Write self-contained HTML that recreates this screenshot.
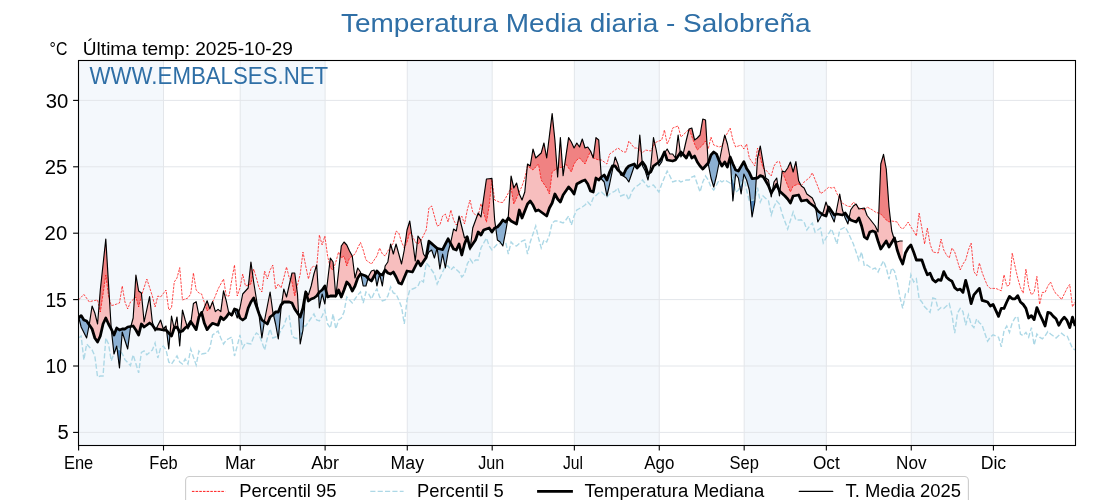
<!DOCTYPE html><html><head><meta charset="utf-8"><style>html,body{margin:0;padding:0;background:#fff;overflow:hidden;}svg{display:block;will-change:transform;}text{font-family:"Liberation Sans", sans-serif;}</style></head><body>
<svg width="1120" height="500" viewBox="0 0 1120 500">
<rect x="0" y="0" width="1120" height="500" fill="#fff"/>
<defs><clipPath id="ax"><rect x="78.0" y="60.0" width="997.0" height="385.0"/></clipPath></defs>
<rect x="78.60" y="60.0" width="84.91" height="385.0" fill="#f4f8fc"/>
<rect x="240.20" y="60.0" width="84.91" height="385.0" fill="#f4f8fc"/>
<rect x="407.28" y="60.0" width="84.91" height="385.0" fill="#f4f8fc"/>
<rect x="574.36" y="60.0" width="84.91" height="385.0" fill="#f4f8fc"/>
<rect x="744.18" y="60.0" width="82.17" height="385.0" fill="#f4f8fc"/>
<rect x="911.26" y="60.0" width="82.17" height="385.0" fill="#f4f8fc"/>
<line x1="78.60" y1="60.0" x2="78.60" y2="445.0" stroke="#e3e6ea" stroke-width="1"/>
<line x1="163.51" y1="60.0" x2="163.51" y2="445.0" stroke="#e3e6ea" stroke-width="1"/>
<line x1="240.20" y1="60.0" x2="240.20" y2="445.0" stroke="#e3e6ea" stroke-width="1"/>
<line x1="325.11" y1="60.0" x2="325.11" y2="445.0" stroke="#e3e6ea" stroke-width="1"/>
<line x1="407.28" y1="60.0" x2="407.28" y2="445.0" stroke="#e3e6ea" stroke-width="1"/>
<line x1="492.19" y1="60.0" x2="492.19" y2="445.0" stroke="#e3e6ea" stroke-width="1"/>
<line x1="574.36" y1="60.0" x2="574.36" y2="445.0" stroke="#e3e6ea" stroke-width="1"/>
<line x1="659.27" y1="60.0" x2="659.27" y2="445.0" stroke="#e3e6ea" stroke-width="1"/>
<line x1="744.18" y1="60.0" x2="744.18" y2="445.0" stroke="#e3e6ea" stroke-width="1"/>
<line x1="826.35" y1="60.0" x2="826.35" y2="445.0" stroke="#e3e6ea" stroke-width="1"/>
<line x1="911.26" y1="60.0" x2="911.26" y2="445.0" stroke="#e3e6ea" stroke-width="1"/>
<line x1="993.43" y1="60.0" x2="993.43" y2="445.0" stroke="#e3e6ea" stroke-width="1"/>
<line x1="78.0" y1="432.40" x2="1075.0" y2="432.40" stroke="#e3e6ea" stroke-width="1"/>
<line x1="78.0" y1="366.00" x2="1075.0" y2="366.00" stroke="#e3e6ea" stroke-width="1"/>
<line x1="78.0" y1="299.60" x2="1075.0" y2="299.60" stroke="#e3e6ea" stroke-width="1"/>
<line x1="78.0" y1="233.20" x2="1075.0" y2="233.20" stroke="#e3e6ea" stroke-width="1"/>
<line x1="78.0" y1="166.80" x2="1075.0" y2="166.80" stroke="#e3e6ea" stroke-width="1"/>
<line x1="78.0" y1="100.40" x2="1075.0" y2="100.40" stroke="#e3e6ea" stroke-width="1"/>
<g clip-path="url(#ax)">
<polygon points="78.40,316.00 78.81,317.64 78.81,317.64 78.40,318.00" fill="#f7bebe"/>
<polygon points="89.20,324.78 89.35,324.00 92.09,306.00 94.83,313.00 97.57,324.00 100.31,290.00 103.05,264.50 105.79,239.00 108.52,284.00 111.26,329.00 111.26,329.00 108.52,324.00 105.79,318.00 103.05,324.00 100.31,336.00 97.57,342.00 94.83,338.00 92.09,329.00 89.35,325.00 89.20,324.78" fill="#f7bebe"/>
<polygon points="130.86,326.42 133.17,318.00 135.91,275.00 138.65,291.00 141.39,293.00 144.12,322.00 146.86,309.30 149.60,296.60 152.34,322.00 153.98,327.40 153.98,327.40 152.34,325.00 149.60,323.00 146.86,325.00 144.12,327.00 141.39,324.00 138.65,335.00 135.91,330.00 133.17,326.00 130.86,326.42" fill="#f7bebe"/>
<polygon points="156.07,329.00 157.82,325.50 160.56,320.00 163.29,329.00 166.03,326.00 166.58,330.60 166.58,330.60 166.03,330.00 163.29,330.00 160.56,329.50 157.82,329.00 156.07,329.00" fill="#f7bebe"/>
<polygon points="169.99,334.33 171.51,316.00 174.12,328.38 174.12,328.38 171.51,336.00 169.99,334.33" fill="#f7bebe"/>
<polygon points="174.50,327.91 176.99,317.00 178.13,329.08 178.13,329.08 176.99,327.00 174.50,327.91" fill="#f7bebe"/>
<polygon points="180.82,331.60 182.46,310.00 185.20,320.00 187.18,326.50 187.18,326.50 185.20,327.80 182.46,331.00 180.82,331.60" fill="#f7bebe"/>
<polygon points="190.96,321.91 193.42,303.50 196.16,301.70 198.89,315.20 200.39,314.55 200.39,314.55 198.89,317.00 196.16,329.60 193.42,325.55 190.96,321.91" fill="#f7bebe"/>
<polygon points="201.87,313.43 204.37,307.40 207.11,300.80 209.85,308.90 212.59,301.70 215.33,311.60 218.06,309.40 220.80,311.60 223.54,290.90 226.28,300.80 228.86,313.23 228.86,313.23 226.28,317.00 223.54,319.70 220.80,317.00 218.06,325.10 215.33,324.20 212.59,323.30 209.85,326.00 207.11,329.60 204.37,323.30 201.87,313.43" fill="#f7bebe"/>
<polygon points="238.45,313.56 239.97,308.00 242.71,294.00 245.45,291.00 248.19,288.00 250.93,262.00 253.66,282.00 256.40,299.00 258.53,312.22 258.53,312.22 256.40,306.00 253.66,298.00 250.93,302.00 248.19,308.00 245.45,318.00 242.71,320.00 239.97,318.00 238.45,313.56" fill="#f7bebe"/>
<polygon points="264.34,321.80 264.62,320.00 267.36,306.00 270.10,292.00 272.83,312.00 273.38,314.40 273.38,314.40 272.83,315.00 270.10,317.00 267.36,324.00 264.62,322.00 264.34,321.80" fill="#f7bebe"/>
<polygon points="281.56,304.44 283.79,289.00 286.53,297.00 289.26,285.00 292.00,273.00 294.74,273.00 297.48,294.00 298.61,314.65 298.61,314.65 297.48,313.00 294.74,309.00 292.00,303.00 289.26,302.00 286.53,302.00 283.79,302.00 281.56,304.44" fill="#f7bebe"/>
<polygon points="305.58,292.70 305.70,291.00 308.43,295.00 311.17,286.00 313.91,274.00 316.65,265.00 318.46,293.36 318.46,293.36 316.65,296.00 313.91,298.00 311.17,299.00 308.43,301.00 305.70,292.00 305.58,292.70" fill="#f7bebe"/>
<polygon points="326.31,291.82 327.60,281.00 330.34,258.00 333.08,262.00 335.74,296.00 335.74,296.00 333.08,296.00 330.34,296.00 327.60,297.00 326.31,291.82" fill="#f7bebe"/>
<polygon points="335.96,295.69 338.56,271.50 341.30,246.00 344.03,242.00 346.77,245.00 349.51,251.00 352.25,256.00 354.99,278.00 357.73,268.00 360.47,272.00 360.89,274.15 360.89,274.15 360.47,274.00 357.73,278.00 354.99,286.00 352.25,291.00 349.51,285.00 346.77,282.00 344.03,290.00 341.30,297.00 338.56,290.00 335.96,295.69" fill="#f7bebe"/>
<polygon points="368.05,278.31 368.68,276.00 371.42,271.00 374.16,270.00 374.94,274.57 374.94,274.57 374.16,276.00 371.42,281.00 368.68,279.00 368.05,278.31" fill="#f7bebe"/>
<polygon points="384.38,271.33 385.11,266.00 387.85,262.00 390.59,244.00 393.33,254.00 396.07,244.00 398.80,254.00 401.54,264.00 404.28,250.00 407.02,230.00 409.76,221.00 412.50,240.00 415.24,261.00 417.97,236.00 420.71,240.00 423.45,254.00 425.99,257.71 425.99,257.71 423.45,261.60 420.71,265.80 417.97,261.00 415.24,266.50 412.50,272.00 409.76,271.50 407.02,271.00 404.28,277.50 401.54,284.00 398.80,283.00 396.07,277.00 393.33,272.00 390.59,274.00 387.85,273.00 385.11,270.00 384.38,271.33" fill="#f7bebe"/>
<polygon points="437.06,248.32 437.14,248.00 437.20,248.41 437.20,248.41 437.14,248.40 437.06,248.32" fill="#f7bebe"/>
<polygon points="450.49,243.26 450.84,242.00 453.57,229.00 456.31,231.00 459.05,216.00 461.79,227.00 464.53,238.00 467.27,236.00 468.18,240.67 468.18,240.67 467.27,237.00 464.53,244.00 461.79,255.00 459.05,244.00 456.31,250.00 453.57,249.00 450.84,243.90 450.49,243.26" fill="#f7bebe"/>
<polygon points="470.31,247.56 472.74,228.00 475.48,220.50 478.22,213.00 480.96,217.00 483.70,198.00 486.44,179.00 489.18,178.70 491.91,178.40 494.65,220.00 495.70,227.62 495.70,227.62 494.65,228.00 491.91,232.00 489.18,228.00 486.44,229.00 483.70,230.00 480.96,235.00 478.22,232.00 475.48,240.00 472.74,244.00 470.31,247.56" fill="#f7bebe"/>
<polygon points="507.89,218.67 508.34,216.00 511.08,176.00 513.82,188.00 516.56,183.00 519.30,194.00 522.04,200.00 524.78,192.00 527.51,164.00 530.25,166.00 532.99,149.00 535.73,158.00 538.47,155.50 541.21,153.00 543.95,143.00 546.68,158.00 549.42,135.80 552.16,113.60 554.90,140.00 557.64,177.00 560.38,137.60 563.11,175.60 565.85,156.60 568.59,137.60 571.33,142.00 574.07,148.00 576.81,143.00 579.55,147.00 582.28,139.00 585.02,148.00 587.76,147.00 590.50,151.00 593.24,158.00 595.98,137.60 598.72,140.00 601.32,177.14 601.32,177.14 598.72,180.00 595.98,178.00 593.24,192.00 590.50,191.00 587.76,184.00 585.02,180.00 582.28,181.00 579.55,182.50 576.81,184.00 574.07,194.00 571.33,190.00 568.59,187.00 565.85,191.00 563.11,195.00 560.38,202.00 557.64,199.00 554.90,194.00 552.16,203.00 549.42,208.00 546.68,216.00 543.95,214.00 541.21,212.00 538.47,210.00 535.73,211.00 532.99,205.00 530.25,201.00 527.51,204.00 524.78,211.00 522.04,218.00 519.30,210.00 516.56,224.00 513.82,222.50 511.08,221.00 508.34,218.00 507.89,218.67" fill="#f7bebe"/>
<polygon points="613.32,166.00 615.15,157.00 617.88,164.00 619.82,171.76 619.82,171.76 617.88,170.00 615.15,166.00 613.32,166.00" fill="#f7bebe"/>
<polygon points="637.05,168.00 639.79,135.00 642.21,162.35 642.21,162.35 639.79,165.00 637.05,168.00" fill="#f7bebe"/>
<polygon points="649.38,173.00 650.75,166.00 653.49,137.60 656.22,150.00 658.35,162.44 658.35,162.44 656.22,164.00 653.49,166.00 650.75,172.00 649.38,173.00" fill="#f7bebe"/>
<polygon points="664.67,152.67 667.18,149.00 669.92,154.00 672.65,154.00 675.39,158.00 678.13,135.00 680.34,152.77 680.34,152.77 678.13,156.00 675.39,160.00 672.65,161.00 669.92,160.50 667.18,160.00 664.67,152.67" fill="#f7bebe"/>
<polygon points="682.58,153.88 683.61,152.00 686.35,140.00 689.09,129.00 691.82,128.00 694.56,140.00 697.30,138.00 700.04,135.00 702.78,119.00 705.52,120.00 708.20,163.06 708.20,163.06 705.52,166.00 702.78,169.00 700.04,166.00 697.30,162.00 694.56,156.00 691.82,158.00 689.09,152.00 686.35,158.00 683.61,155.00 682.58,153.88" fill="#f7bebe"/>
<polygon points="719.35,161.26 721.95,148.00 724.69,135.00 727.42,144.00 730.05,157.42 730.05,157.42 727.42,167.00 724.69,162.00 721.95,166.00 719.35,161.26" fill="#f7bebe"/>
<polygon points="756.29,178.14 757.55,158.00 760.29,146.00 763.02,162.00 765.76,178.00 768.50,180.00 770.12,190.06 770.12,190.06 768.50,185.80 765.76,181.00 763.02,176.60 760.29,175.60 757.55,178.00 756.29,178.14" fill="#f7bebe"/>
<polygon points="772.27,191.34 773.98,182.00 776.72,178.00 778.23,187.96 778.23,187.96 776.72,184.20 773.98,188.60 772.27,191.34" fill="#f7bebe"/>
<polygon points="779.95,191.45 782.19,171.00 784.93,172.00 787.67,168.00 790.41,162.00 793.15,172.00 795.89,161.60 798.63,180.80 801.36,186.00 804.10,188.00 806.84,194.00 809.58,196.00 812.32,198.00 815.06,204.00 815.64,207.86 815.64,207.86 815.06,207.00 812.32,205.00 809.58,203.00 806.84,200.00 804.10,200.50 801.36,201.00 798.63,195.00 795.89,195.50 793.15,196.00 790.41,203.00 787.67,199.00 784.93,196.00 782.19,193.50 779.95,191.45" fill="#f7bebe"/>
<polygon points="822.10,214.14 823.27,212.00 826.01,202.00 828.27,208.59 828.27,208.59 826.01,216.00 823.27,215.00 822.10,214.14" fill="#f7bebe"/>
<polygon points="835.70,214.46 836.96,208.00 839.70,194.00 842.44,210.00 843.81,214.00 843.81,214.00 842.44,215.00 839.70,214.50 836.96,214.00 835.70,214.46" fill="#f7bebe"/>
<polygon points="849.05,218.24 850.66,210.00 853.40,206.00 856.13,204.00 858.87,209.00 861.61,208.50 864.35,208.00 867.09,215.50 869.83,219.00 872.57,222.50 875.30,226.00 878.04,232.00 880.78,164.00 883.52,154.40 886.26,169.00 889.00,207.00 891.73,231.00 894.07,238.67 894.07,238.67 891.73,242.50 889.00,247.00 886.26,241.00 883.52,245.00 880.78,249.00 878.04,241.00 875.30,232.00 872.57,231.00 869.83,232.00 867.09,239.00 864.35,237.00 861.61,226.00 858.87,218.00 856.13,222.00 853.40,221.00 850.66,220.00 849.05,218.24" fill="#f7bebe"/>
<polygon points="895.02,240.40 897.21,242.00 899.95,241.00 902.69,241.00 902.69,264.00 899.95,258.00 897.21,250.00 895.02,240.40" fill="#f7bebe"/>
<polygon points="99.00,306.26 100.31,290.00 103.05,264.50 105.79,239.00 108.52,284.00 109.45,299.25 109.45,299.25 108.52,296.00 105.79,275.00 103.05,294.00 100.31,312.00 99.00,306.26" fill="#f08282"/>
<polygon points="134.42,298.36 135.91,275.00 138.65,291.00 141.39,293.00 141.60,295.32 141.60,295.32 141.39,296.00 138.65,307.00 135.91,297.00 134.42,298.36" fill="#f08282"/>
<polygon points="205.26,305.26 207.11,300.80 209.63,308.24 209.63,308.24 207.11,311.00 205.26,305.26" fill="#f08282"/>
<polygon points="211.90,303.50 212.59,301.70 212.64,301.89 212.64,301.89 212.59,302.00 211.90,303.50" fill="#f08282"/>
<polygon points="248.52,284.88 250.93,262.00 252.65,274.57 252.65,274.57 250.93,284.00 248.52,284.88" fill="#f08282"/>
<polygon points="290.46,279.75 292.00,273.00 294.74,273.00 296.71,288.09 296.71,288.09 294.74,296.00 292.00,282.00 290.46,279.75" fill="#f08282"/>
<polygon points="315.90,267.45 316.65,265.00 316.76,266.70 316.76,266.70 316.65,268.00 315.90,267.45" fill="#f08282"/>
<polygon points="329.56,264.57 330.34,258.00 333.08,262.00 333.59,268.51 333.59,268.51 333.08,270.00 330.34,268.00 329.56,264.57" fill="#f08282"/>
<polygon points="340.25,255.71 341.30,246.00 344.03,242.00 346.77,245.00 349.51,251.00 352.25,256.00 352.25,256.00 349.51,258.00 346.77,266.00 344.03,256.00 341.30,258.00 340.25,255.71" fill="#f08282"/>
<polygon points="390.00,247.86 390.59,244.00 391.18,246.14 391.18,246.14 390.59,247.00 390.00,247.86" fill="#f08282"/>
<polygon points="404.67,247.14 407.02,230.00 409.76,221.00 411.77,234.93 411.77,234.93 409.76,232.00 407.02,242.00 404.67,247.14" fill="#f08282"/>
<polygon points="417.16,243.41 417.97,236.00 420.71,240.00 420.85,240.72 420.85,240.72 420.71,241.00 417.97,244.00 417.16,243.41" fill="#f08282"/>
<polygon points="457.96,222.00 459.05,216.00 459.78,218.93 459.78,218.93 459.05,220.00 457.96,222.00" fill="#f08282"/>
<polygon points="477.34,215.41 478.22,213.00 478.67,213.65 478.67,213.65 478.22,215.60 477.34,215.41" fill="#f08282"/>
<polygon points="482.26,208.00 483.70,198.00 486.44,179.00 489.18,178.70 491.91,178.40 492.07,180.75 492.07,180.75 491.91,179.60 489.18,206.00 486.44,222.20 483.70,212.90 482.26,208.00" fill="#f08282"/>
<polygon points="510.14,189.71 511.08,176.00 513.82,188.00 516.56,183.00 518.98,192.71 518.98,192.71 516.56,198.00 513.82,204.00 511.08,188.00 510.14,189.71" fill="#f08282"/>
<polygon points="527.17,167.50 527.51,164.00 530.25,166.00 532.99,149.00 535.73,158.00 538.47,155.50 541.21,153.00 543.95,143.00 546.68,158.00 549.42,135.80 552.16,113.60 554.90,140.00 557.01,168.46 557.01,168.46 554.90,170.00 552.16,172.00 549.42,194.00 546.68,188.00 543.95,184.00 541.21,180.00 538.47,164.00 535.73,167.00 532.99,170.00 530.25,168.00 527.51,166.00 527.17,167.50" fill="#f08282"/>
<polygon points="558.27,167.88 560.38,137.60 562.50,167.11 562.50,167.11 560.38,167.50 558.27,167.88" fill="#f08282"/>
<polygon points="564.59,165.39 565.85,156.60 568.59,137.60 571.33,142.00 574.07,148.00 576.81,143.00 579.55,147.00 582.28,139.00 585.02,148.00 587.76,147.00 590.50,151.00 590.50,151.00 587.76,157.50 585.02,164.00 582.28,161.00 579.55,158.00 576.81,160.00 574.07,164.00 571.33,172.00 568.59,168.00 565.85,164.00 564.59,165.39" fill="#f08282"/>
<polygon points="593.24,158.00 595.98,137.60 598.72,140.00 600.12,160.00 600.12,160.00 598.72,160.00 595.98,159.00 593.24,158.00" fill="#f08282"/>
<polygon points="638.60,149.41 639.79,135.00 641.28,151.86 641.28,151.86 639.79,150.50 638.60,149.41" fill="#f08282"/>
<polygon points="652.50,147.79 653.49,137.60 654.89,143.95 654.89,143.95 653.49,146.00 652.50,147.79" fill="#f08282"/>
<polygon points="689.09,129.00 691.82,128.00 694.56,140.00 697.30,138.00 700.04,135.00 702.78,119.00 705.52,120.00 707.11,145.67 707.11,145.67 705.52,141.00 702.78,145.00 700.04,147.50 697.30,150.00 694.56,144.00 691.82,136.50 689.09,129.00" fill="#f08282"/>
<polygon points="723.04,142.80 724.69,135.00 725.27,136.93 725.27,136.93 724.69,138.00 723.04,142.80" fill="#f08282"/>
<polygon points="758.79,152.55 760.29,146.00 763.02,162.00 764.20,168.86 764.20,168.86 763.02,168.00 760.29,158.00 758.79,152.55" fill="#f08282"/>
<polygon points="782.18,171.14 782.19,171.00 784.93,172.00 787.67,168.00 790.41,162.00 793.15,172.00 795.89,161.60 798.63,180.80 801.06,185.42 801.06,185.42 798.63,184.00 795.89,185.00 793.15,186.00 790.41,192.00 787.67,185.60 784.93,178.40 782.19,171.20 782.18,171.14" fill="#f08282"/>
<polygon points="839.06,197.28 839.70,194.00 840.78,200.29 840.78,200.29 839.70,198.40 839.06,197.28" fill="#f08282"/>
<polygon points="855.59,204.40 856.13,204.00 857.50,206.50 857.50,206.50 856.13,205.00 855.59,204.40" fill="#f08282"/>
<polygon points="860.70,208.67 861.61,208.50 864.35,208.00 864.87,209.43 864.87,209.43 864.35,210.00 861.61,209.00 860.70,208.67" fill="#f08282"/>
<polygon points="878.80,213.28 880.78,164.00 883.52,154.40 886.26,169.00 889.00,207.00 890.64,221.40 890.64,221.40 889.00,222.00 886.26,220.00 883.52,217.00 880.78,214.00 878.80,213.28" fill="#f08282"/>
<polygon points="78.81,317.64 81.14,327.00 83.88,332.50 86.62,338.00 89.20,324.78 89.20,324.78 86.62,321.00 83.88,320.00 81.14,315.60 78.81,317.64" fill="#8cb0d2"/>
<polygon points="111.26,329.00 114.00,354.00 116.74,346.00 119.48,368.00 122.22,332.00 124.95,340.50 127.69,349.00 130.43,328.00 130.86,326.42 130.86,326.42 130.43,326.50 127.69,327.00 124.95,329.00 122.22,329.00 119.48,330.00 116.74,328.00 114.00,335.00 111.26,329.00" fill="#8cb0d2"/>
<polygon points="153.98,327.40 155.08,331.00 156.07,329.00 156.07,329.00 155.08,329.00 153.98,327.40" fill="#8cb0d2"/>
<polygon points="166.58,330.60 168.77,349.00 169.99,334.33 169.99,334.33 168.77,333.00 166.58,330.60" fill="#8cb0d2"/>
<polygon points="174.12,328.38 174.25,329.00 174.50,327.91 174.50,327.91 174.25,328.00 174.12,328.38" fill="#8cb0d2"/>
<polygon points="178.13,329.08 179.72,346.00 180.82,331.60 180.82,331.60 179.72,332.00 178.13,329.08" fill="#8cb0d2"/>
<polygon points="187.18,326.50 187.94,329.00 190.68,324.00 190.96,321.91 190.96,321.91 190.68,321.50 187.94,326.00 187.18,326.50" fill="#8cb0d2"/>
<polygon points="200.39,314.55 201.63,314.00 201.87,313.43 201.87,313.43 201.63,312.50 200.39,314.55" fill="#8cb0d2"/>
<polygon points="228.86,313.23 229.02,314.00 231.76,316.00 234.49,310.00 237.23,318.00 238.45,313.56 238.45,313.56 237.23,310.00 234.49,309.00 231.76,315.00 229.02,313.00 228.86,313.23" fill="#8cb0d2"/>
<polygon points="258.53,312.22 259.14,316.00 261.88,338.00 264.34,321.80 264.34,321.80 261.88,320.00 259.14,314.00 258.53,312.22" fill="#8cb0d2"/>
<polygon points="273.38,314.40 275.57,324.00 278.31,339.00 281.05,308.00 281.56,304.44 281.56,304.44 281.05,305.00 278.31,312.00 275.57,312.00 273.38,314.40" fill="#8cb0d2"/>
<polygon points="298.61,314.65 300.22,344.00 302.96,330.00 305.58,292.70 305.58,292.70 302.96,308.00 300.22,317.00 298.61,314.65" fill="#8cb0d2"/>
<polygon points="318.46,293.36 319.39,308.00 322.13,294.00 324.87,304.00 326.31,291.82 326.31,291.82 324.87,286.00 322.13,290.00 319.39,292.00 318.46,293.36" fill="#8cb0d2"/>
<polygon points="335.74,296.00 335.82,297.00 335.96,295.69 335.96,295.69 335.82,296.00 335.74,296.00" fill="#8cb0d2"/>
<polygon points="360.89,274.15 363.20,286.00 365.94,286.00 368.05,278.31 368.05,278.31 365.94,276.00 363.20,275.00 360.89,274.15" fill="#8cb0d2"/>
<polygon points="374.94,274.57 376.90,286.00 379.63,274.00 379.63,274.00 376.90,271.00 374.94,274.57" fill="#8cb0d2"/>
<polygon points="379.63,274.00 382.37,286.00 384.38,271.33 384.38,271.33 382.37,275.00 379.63,274.00" fill="#8cb0d2"/>
<polygon points="425.99,257.71 426.19,258.00 428.93,252.00 431.67,250.00 434.40,258.00 437.06,248.32 437.06,248.32 434.40,246.00 431.67,243.60 428.93,241.20 426.19,257.40 425.99,257.71" fill="#8cb0d2"/>
<polygon points="437.20,248.41 439.88,269.00 442.62,254.00 445.36,268.00 448.10,252.00 450.49,243.26 450.49,243.26 448.10,238.80 445.36,244.20 442.62,249.60 439.88,249.00 437.20,248.41" fill="#8cb0d2"/>
<polygon points="468.18,240.67 470.01,250.00 470.31,247.56 470.31,247.56 470.01,248.00 468.18,240.67" fill="#8cb0d2"/>
<polygon points="495.70,227.62 497.39,240.00 500.13,242.00 502.87,246.00 505.61,232.00 507.89,218.67 507.89,218.67 505.61,222.00 502.87,220.00 500.13,224.00 497.39,227.00 495.70,227.62" fill="#8cb0d2"/>
<polygon points="601.32,177.14 601.45,179.00 604.19,182.00 606.93,196.00 609.67,184.00 612.41,170.50 613.32,166.00 613.32,166.00 612.41,166.00 609.67,172.00 606.93,180.00 604.19,175.00 601.45,177.00 601.32,177.14" fill="#8cb0d2"/>
<polygon points="619.82,171.76 620.62,175.00 623.36,176.00 626.10,178.00 628.84,182.00 631.58,174.00 634.32,166.00 637.05,168.00 637.05,168.00 634.32,164.00 631.58,165.00 628.84,166.00 626.10,169.00 623.36,175.00 620.62,172.50 619.82,171.76" fill="#8cb0d2"/>
<polygon points="642.21,162.35 642.53,166.00 645.27,171.00 648.01,180.00 649.38,173.00 649.38,173.00 648.01,174.00 645.27,166.00 642.53,162.00 642.21,162.35" fill="#8cb0d2"/>
<polygon points="658.35,162.44 658.96,166.00 661.70,162.00 664.44,153.00 664.67,152.67 664.67,152.67 664.44,152.00 661.70,158.00 658.96,162.00 658.35,162.44" fill="#8cb0d2"/>
<polygon points="680.34,152.77 680.87,157.00 682.58,153.88 682.58,153.88 680.87,152.00 680.34,152.77" fill="#8cb0d2"/>
<polygon points="708.20,163.06 708.25,164.00 710.99,178.00 713.73,187.00 716.47,176.00 719.21,162.00 719.35,161.26 719.35,161.26 719.21,161.00 716.47,154.00 713.73,152.00 710.99,155.00 708.25,163.00 708.20,163.06" fill="#8cb0d2"/>
<polygon points="730.05,157.42 730.16,158.00 732.90,201.00 735.64,174.00 738.38,178.00 741.12,194.00 743.86,174.00 746.59,180.00 749.33,190.00 752.07,217.00 754.81,202.00 756.29,178.14 756.29,178.14 754.81,178.30 752.07,178.60 749.33,172.60 746.59,168.40 743.86,161.80 741.12,166.40 738.38,171.00 735.64,170.00 732.90,164.00 730.16,157.00 730.05,157.42" fill="#8cb0d2"/>
<polygon points="770.12,190.06 771.24,197.00 772.27,191.34 772.27,191.34 771.24,193.00 770.12,190.06" fill="#8cb0d2"/>
<polygon points="778.23,187.96 779.46,196.00 779.95,191.45 779.95,191.45 779.46,191.00 778.23,187.96" fill="#8cb0d2"/>
<polygon points="815.64,207.86 817.80,222.00 820.53,217.00 822.10,214.14 822.10,214.14 820.53,213.00 817.80,211.00 815.64,207.86" fill="#8cb0d2"/>
<polygon points="828.27,208.59 828.75,210.00 831.49,216.00 834.23,222.00 835.70,214.46 835.70,214.46 834.23,215.00 831.49,211.00 828.75,207.00 828.27,208.59" fill="#8cb0d2"/>
<polygon points="843.81,214.00 845.18,218.00 847.92,224.00 849.05,218.24 849.05,218.24 847.92,217.00 845.18,213.00 843.81,214.00" fill="#8cb0d2"/>
<polygon points="894.07,238.67 894.47,240.00 895.02,240.40 895.02,240.40 894.47,238.00 894.07,238.67" fill="#8cb0d2"/>
<polygon points="113.97,353.69 114.00,354.00 115.37,350.00 115.37,350.00 114.00,353.60 113.97,353.69" fill="#4a80b6"/>
<polygon points="116.80,346.48 119.48,368.00 120.72,351.64 120.72,351.64 119.48,350.00 116.80,346.48" fill="#4a80b6"/>
<polygon points="277.80,336.19 278.31,339.00 278.64,335.28 278.64,335.28 278.31,336.00 277.80,336.19" fill="#4a80b6"/>
<polygon points="299.94,338.95 300.22,344.00 302.96,330.00 303.24,326.00 303.24,326.00 302.96,326.00 300.22,339.00 299.94,338.95" fill="#4a80b6"/>
<polygon points="445.09,266.60 445.36,268.00 445.70,266.00 445.70,266.00 445.36,266.00 445.09,266.60" fill="#4a80b6"/>
<polygon points="501.04,243.33 502.87,246.00 503.50,242.77 503.50,242.77 502.87,243.00 501.04,243.33" fill="#4a80b6"/>
<polygon points="731.53,179.50 732.90,201.00 734.48,185.45 734.48,185.45 732.90,176.00 731.53,179.50" fill="#4a80b6"/>
<polygon points="739.83,186.50 741.12,194.00 743.28,178.18 743.28,178.18 741.12,183.40 739.83,186.50" fill="#4a80b6"/>
<polygon points="750.42,200.72 752.07,217.00 754.81,202.00 755.01,198.70 755.01,198.70 754.81,199.60 752.07,200.30 750.42,200.72" fill="#4a80b6"/>
<polyline points="78.40,300.00 81.14,297.20 83.88,294.40 86.62,298.20 89.35,302.00 92.09,301.00 94.83,300.50 97.57,300.00 100.31,312.00 103.05,294.00 105.79,275.00 108.52,296.00 111.26,305.60 114.00,305.00 116.74,304.00 119.48,303.00 122.22,286.00 124.95,302.00 127.69,309.00 130.43,302.00 133.17,299.50 135.91,297.00 138.65,307.00 141.39,296.00 144.12,287.50 146.86,279.00 149.60,287.50 152.34,296.00 155.08,307.00 157.82,296.00 160.56,297.00 163.29,293.50 166.03,290.00 168.77,310.00 171.51,308.00 174.25,282.00 176.99,278.00 179.72,267.60 182.46,300.00 185.20,299.00 187.94,298.00 190.68,294.00 193.42,273.00 196.16,290.00 198.89,293.00 201.63,294.00 204.37,302.50 207.11,311.00 209.85,308.00 212.59,302.00 215.33,296.00 218.06,289.00 220.80,284.00 223.54,279.00 226.28,296.00 229.02,296.00 231.76,280.00 234.49,265.00 237.23,296.00 239.97,288.00 242.71,274.00 245.45,286.00 248.19,285.00 250.93,284.00 253.66,269.00 256.40,278.00 259.14,288.00 261.88,292.00 264.62,271.00 267.36,279.00 270.10,270.00 272.83,265.00 275.57,289.00 278.31,284.00 281.05,288.00 283.79,278.00 286.53,267.00 289.26,278.00 292.00,282.00 294.74,296.00 297.48,285.00 300.22,274.00 302.96,252.00 305.70,266.00 308.43,279.00 311.17,268.00 313.91,266.00 316.65,268.00 319.39,235.00 322.13,245.00 324.87,236.00 327.60,256.00 330.34,268.00 333.08,270.00 335.82,262.00 338.56,252.00 341.30,258.00 344.03,256.00 346.77,266.00 349.51,258.00 352.25,256.00 354.99,254.00 357.73,248.00 360.47,242.40 363.20,250.00 365.94,260.00 368.68,262.00 371.42,264.00 374.16,260.00 376.90,256.00 379.63,248.00 382.37,254.00 385.11,256.00 387.85,251.00 390.59,247.00 393.33,243.00 396.07,231.00 398.80,233.00 401.54,242.00 404.28,248.00 407.02,242.00 409.76,232.00 412.50,236.00 415.24,242.00 417.97,244.00 420.71,241.00 423.45,235.50 426.19,230.00 428.93,208.00 431.67,206.00 434.40,216.00 437.14,226.00 439.88,225.00 442.62,216.00 445.36,214.00 448.10,222.00 450.84,210.00 453.57,220.00 456.31,225.00 459.05,220.00 461.79,216.00 464.53,224.00 467.27,210.00 470.01,200.00 472.74,212.00 475.48,215.00 478.22,215.60 480.96,203.60 483.70,212.90 486.44,222.20 489.18,206.00 491.91,179.60 494.65,200.00 497.39,201.20 500.13,202.40 502.87,202.40 505.61,198.00 508.34,193.00 511.08,188.00 513.82,204.00 516.56,198.00 519.30,192.00 522.04,186.00 524.78,178.00 527.51,166.00 530.25,168.00 532.99,170.00 535.73,167.00 538.47,164.00 541.21,180.00 543.95,184.00 546.68,188.00 549.42,194.00 552.16,172.00 554.90,170.00 557.64,168.00 560.38,167.50 563.11,167.00 565.85,164.00 568.59,168.00 571.33,172.00 574.07,164.00 576.81,160.00 579.55,158.00 582.28,161.00 585.02,164.00 587.76,157.50 590.50,151.00 593.24,158.00 595.98,159.00 598.72,160.00 601.45,160.00 604.19,162.00 606.93,164.00 609.67,154.00 612.41,152.00 615.15,150.00 617.88,148.00 620.62,150.00 623.36,152.00 626.10,152.00 628.84,141.00 631.58,144.50 634.32,148.00 637.05,148.00 639.79,150.50 642.53,153.00 645.27,150.00 648.01,150.50 650.75,151.00 653.49,146.00 656.22,142.00 658.96,141.00 661.70,140.00 664.44,130.00 667.18,144.00 669.92,138.00 672.65,128.00 675.39,127.00 678.13,126.00 680.87,137.00 683.61,134.50 686.35,132.00 689.09,129.00 691.82,136.50 694.56,144.00 697.30,150.00 700.04,147.50 702.78,145.00 705.52,141.00 708.25,149.00 710.99,137.00 713.73,145.00 716.47,146.00 719.21,147.00 721.95,146.00 724.69,138.00 727.42,133.00 730.16,128.00 732.90,140.00 735.64,147.00 738.38,146.00 741.12,145.00 743.86,149.00 746.59,144.00 749.33,158.00 752.07,162.00 754.81,166.00 757.55,148.00 760.29,158.00 763.02,168.00 765.76,170.00 768.50,173.00 771.24,176.00 773.98,166.00 776.72,162.00 779.46,161.60 782.19,171.20 784.93,178.40 787.67,185.60 790.41,192.00 793.15,186.00 795.89,185.00 798.63,184.00 801.36,185.60 804.10,182.00 806.84,179.80 809.58,177.60 812.32,172.80 815.06,179.60 817.80,186.40 820.53,193.60 823.27,192.00 826.01,189.60 828.75,187.20 831.49,188.00 834.23,187.20 836.96,193.60 839.70,198.40 842.44,203.20 845.18,204.80 847.92,206.40 850.66,206.40 853.40,202.00 856.13,205.00 858.87,208.00 861.61,209.00 864.35,210.00 867.09,207.00 869.83,208.50 872.57,210.00 875.30,212.00 878.04,213.00 880.78,214.00 883.52,217.00 886.26,220.00 889.00,222.00 891.73,221.00 894.47,221.50 897.21,222.00 899.95,227.00 902.69,229.00 905.43,226.00 908.17,222.00 910.90,227.00 913.64,231.00 916.38,236.00 919.12,213.00 921.86,228.00 924.60,244.00 927.34,228.00 930.07,244.00 932.81,252.00 935.55,252.50 938.29,253.00 941.03,239.00 943.77,250.00 946.50,255.00 949.24,258.00 951.98,248.00 954.72,252.00 957.46,261.00 960.20,270.00 962.94,264.00 965.67,260.00 968.41,250.00 971.15,243.00 973.89,271.60 976.63,275.60 979.37,263.00 982.11,272.40 984.84,279.60 987.58,286.00 990.32,288.40 993.06,288.40 995.80,288.40 998.54,289.60 1001.27,290.80 1004.01,274.80 1006.75,286.00 1009.49,285.20 1012.23,253.00 1014.97,266.00 1017.71,278.00 1020.44,287.60 1023.18,293.20 1025.92,269.00 1028.66,286.80 1031.40,294.80 1034.14,292.40 1036.88,276.40 1039.61,304.40 1042.35,292.40 1045.09,292.40 1047.83,286.00 1050.57,282.00 1053.31,289.20 1056.04,294.00 1058.78,296.00 1061.52,299.60 1064.26,294.00 1067.00,288.40 1069.74,284.40 1072.48,306.80 1075.21,302.00" fill="none" stroke="#ff0000" stroke-width="0.7" stroke-dasharray="2.57,1.11"/>
<polyline points="78.40,338.00 81.14,336.00 83.88,360.00 86.62,344.00 89.35,347.00 92.09,350.00 94.83,356.00 97.57,377.00 100.31,376.00 103.05,376.00 105.79,338.00 108.52,344.00 111.26,360.80 114.00,353.60 116.74,346.40 119.48,350.00 122.22,353.60 124.95,359.60 127.69,362.60 130.43,365.60 133.17,354.80 135.91,363.80 138.65,372.80 141.39,352.40 144.12,351.00 146.86,354.80 149.60,352.40 152.34,350.00 155.08,343.00 157.82,358.00 160.56,348.00 163.29,346.00 166.03,350.00 168.77,362.00 171.51,364.00 174.25,360.00 176.99,356.00 179.72,362.00 182.46,364.00 185.20,359.00 187.94,364.00 190.68,349.00 193.42,357.00 196.16,365.00 198.89,351.00 201.63,354.00 204.37,353.50 207.11,353.00 209.85,348.00 212.59,335.00 215.33,333.00 218.06,331.00 220.80,338.00 223.54,344.00 226.28,340.00 229.02,338.50 231.76,337.00 234.49,356.00 237.23,346.00 239.97,335.00 242.71,348.00 245.45,343.00 248.19,343.50 250.93,344.00 253.66,337.00 256.40,333.00 259.14,335.00 261.88,342.00 264.62,350.00 267.36,338.00 270.10,329.00 272.83,338.00 275.57,337.00 278.31,336.00 281.05,330.00 283.79,326.00 286.53,318.00 289.26,316.00 292.00,336.00 294.74,338.00 297.48,338.50 300.22,339.00 302.96,326.00 305.70,326.00 308.43,322.00 311.17,318.00 313.91,314.00 316.65,320.00 319.39,321.00 322.13,316.00 324.87,310.00 327.60,324.00 330.34,328.00 333.08,314.00 335.82,329.00 338.56,320.00 341.30,318.00 344.03,312.00 346.77,297.00 349.51,300.00 352.25,303.00 354.99,299.00 357.73,295.00 360.47,292.00 363.20,303.00 365.94,292.00 368.68,294.00 371.42,299.00 374.16,293.00 376.90,289.00 379.63,297.00 382.37,301.00 385.11,300.00 387.85,296.00 390.59,287.00 393.33,293.00 396.07,294.00 398.80,300.00 401.54,307.00 404.28,324.00 407.02,300.00 409.76,290.00 412.50,289.00 415.24,288.00 417.97,286.00 420.71,280.00 423.45,282.00 426.19,263.00 428.93,266.00 431.67,270.00 434.40,274.00 437.14,284.00 439.88,278.00 442.62,272.00 445.36,266.00 448.10,266.00 450.84,270.00 453.57,267.00 456.31,269.50 459.05,272.00 461.79,277.00 464.53,274.00 467.27,264.00 470.01,259.00 472.74,263.00 475.48,260.00 478.22,260.00 480.96,248.00 483.70,243.00 486.44,238.00 489.18,246.00 491.91,250.00 494.65,247.00 497.39,244.00 500.13,243.50 502.87,243.00 505.61,242.00 508.34,254.00 511.08,242.00 513.82,245.00 516.56,246.00 519.30,243.50 522.04,241.00 524.78,240.00 527.51,254.00 530.25,242.00 532.99,234.00 535.73,226.00 538.47,238.00 541.21,248.00 543.95,240.00 546.68,242.00 549.42,235.00 552.16,223.00 554.90,221.00 557.64,221.00 560.38,222.00 563.11,223.00 565.85,220.00 568.59,216.00 571.33,225.00 574.07,216.00 576.81,210.00 579.55,208.50 582.28,207.00 585.02,205.00 587.76,202.00 590.50,205.00 593.24,198.00 595.98,195.50 598.72,193.00 601.45,192.00 604.19,194.50 606.93,197.00 609.67,194.00 612.41,192.50 615.15,191.00 617.88,188.00 620.62,196.00 623.36,195.00 626.10,194.00 628.84,200.00 631.58,192.00 634.32,188.00 637.05,186.00 639.79,184.00 642.53,180.00 645.27,183.50 648.01,187.00 650.75,186.00 653.49,185.00 656.22,188.50 658.96,192.00 661.70,184.00 664.44,177.50 667.18,171.00 669.92,176.00 672.65,182.00 675.39,181.00 678.13,180.00 680.87,182.00 683.61,181.00 686.35,180.00 689.09,180.00 691.82,177.00 694.56,176.00 697.30,184.00 700.04,192.00 702.78,182.00 705.52,176.00 708.25,180.00 710.99,187.00 713.73,190.00 716.47,185.00 719.21,180.00 721.95,182.00 724.69,180.00 727.42,181.50 730.16,183.00 732.90,176.00 735.64,192.40 738.38,190.00 741.12,183.40 743.86,176.80 746.59,190.00 749.33,201.00 752.07,200.30 754.81,199.60 757.55,187.60 760.29,202.00 763.02,196.00 765.76,198.40 768.50,200.80 771.24,215.00 773.98,206.80 776.72,201.00 779.46,204.00 782.19,214.00 784.93,221.50 787.67,229.00 790.41,220.50 793.15,212.00 795.89,220.00 798.63,220.00 801.36,220.00 804.10,222.00 806.84,230.00 809.58,226.00 812.32,223.00 815.06,232.00 817.80,230.00 820.53,228.00 823.27,243.00 826.01,238.00 828.75,233.50 831.49,229.00 834.23,236.00 836.96,244.00 839.70,230.00 842.44,228.50 845.18,227.00 847.92,232.00 850.66,238.00 853.40,244.00 856.13,252.00 858.87,260.00 861.61,252.00 864.35,266.00 867.09,265.00 869.83,267.00 872.57,269.00 875.30,268.00 878.04,272.00 880.78,266.00 883.52,261.00 886.26,268.00 889.00,279.00 891.73,268.00 894.47,271.00 897.21,282.00 899.95,297.20 902.69,308.40 905.43,294.00 908.17,292.40 910.90,274.80 913.64,282.00 916.38,278.80 919.12,298.80 921.86,302.00 924.60,306.80 927.34,309.60 930.07,312.40 932.81,298.00 935.55,298.80 938.29,310.00 941.03,307.60 943.77,308.40 946.50,306.00 949.24,303.60 951.98,314.80 954.72,333.20 957.46,313.20 960.20,308.40 962.94,311.60 965.67,325.20 968.41,314.80 971.15,324.40 973.89,327.60 976.63,318.80 979.37,322.80 982.11,325.20 984.84,333.20 987.58,341.20 990.32,337.20 993.06,334.80 995.80,336.00 998.54,337.20 1001.27,346.80 1004.01,330.80 1006.75,326.00 1009.49,332.40 1012.23,322.80 1014.97,318.00 1017.71,316.40 1020.44,334.00 1023.18,335.60 1025.92,332.40 1028.66,337.20 1031.40,327.60 1034.14,345.20 1036.88,334.00 1039.61,337.20 1042.35,338.80 1045.09,336.00 1047.83,331.60 1050.57,334.00 1053.31,336.00 1056.04,338.00 1058.78,335.60 1061.52,333.20 1064.26,335.60 1067.00,335.60 1069.74,342.00 1072.48,348.40 1075.21,350.00" fill="none" stroke="#add8e6" stroke-width="1.39" stroke-dasharray="5.14,2.22"/>
<polyline points="78.40,318.00 81.14,315.60 83.88,320.00 86.62,321.00 89.35,325.00 92.09,329.00 94.83,338.00 97.57,342.00 100.31,336.00 103.05,324.00 105.79,318.00 108.52,324.00 111.26,329.00 114.00,335.00 116.74,328.00 119.48,330.00 122.22,329.00 124.95,329.00 127.69,327.00 130.43,326.50 133.17,326.00 135.91,330.00 138.65,335.00 141.39,324.00 144.12,327.00 146.86,325.00 149.60,323.00 152.34,325.00 155.08,329.00 157.82,329.00 160.56,329.50 163.29,330.00 166.03,330.00 168.77,333.00 171.51,336.00 174.25,328.00 176.99,327.00 179.72,332.00 182.46,331.00 185.20,327.80 187.94,326.00 190.68,321.50 193.42,325.55 196.16,329.60 198.89,317.00 201.63,312.50 204.37,323.30 207.11,329.60 209.85,326.00 212.59,323.30 215.33,324.20 218.06,325.10 220.80,317.00 223.54,319.70 226.28,317.00 229.02,313.00 231.76,315.00 234.49,309.00 237.23,310.00 239.97,318.00 242.71,320.00 245.45,318.00 248.19,308.00 250.93,302.00 253.66,298.00 256.40,306.00 259.14,314.00 261.88,320.00 264.62,322.00 267.36,324.00 270.10,317.00 272.83,315.00 275.57,312.00 278.31,312.00 281.05,305.00 283.79,302.00 286.53,302.00 289.26,302.00 292.00,303.00 294.74,309.00 297.48,313.00 300.22,317.00 302.96,308.00 305.70,292.00 308.43,301.00 311.17,299.00 313.91,298.00 316.65,296.00 319.39,292.00 322.13,290.00 324.87,286.00 327.60,297.00 330.34,296.00 333.08,296.00 335.82,296.00 338.56,290.00 341.30,297.00 344.03,290.00 346.77,282.00 349.51,285.00 352.25,291.00 354.99,286.00 357.73,278.00 360.47,274.00 363.20,275.00 365.94,276.00 368.68,279.00 371.42,281.00 374.16,276.00 376.90,271.00 379.63,274.00 382.37,275.00 385.11,270.00 387.85,273.00 390.59,274.00 393.33,272.00 396.07,277.00 398.80,283.00 401.54,284.00 404.28,277.50 407.02,271.00 409.76,271.50 412.50,272.00 415.24,266.50 417.97,261.00 420.71,265.80 423.45,261.60 426.19,257.40 428.93,241.20 431.67,243.60 434.40,246.00 437.14,248.40 439.88,249.00 442.62,249.60 445.36,244.20 448.10,238.80 450.84,243.90 453.57,249.00 456.31,250.00 459.05,244.00 461.79,255.00 464.53,244.00 467.27,237.00 470.01,248.00 472.74,244.00 475.48,240.00 478.22,232.00 480.96,235.00 483.70,230.00 486.44,229.00 489.18,228.00 491.91,232.00 494.65,228.00 497.39,227.00 500.13,224.00 502.87,220.00 505.61,222.00 508.34,218.00 511.08,221.00 513.82,222.50 516.56,224.00 519.30,210.00 522.04,218.00 524.78,211.00 527.51,204.00 530.25,201.00 532.99,205.00 535.73,211.00 538.47,210.00 541.21,212.00 543.95,214.00 546.68,216.00 549.42,208.00 552.16,203.00 554.90,194.00 557.64,199.00 560.38,202.00 563.11,195.00 565.85,191.00 568.59,187.00 571.33,190.00 574.07,194.00 576.81,184.00 579.55,182.50 582.28,181.00 585.02,180.00 587.76,184.00 590.50,191.00 593.24,192.00 595.98,178.00 598.72,180.00 601.45,177.00 604.19,175.00 606.93,180.00 609.67,172.00 612.41,166.00 615.15,166.00 617.88,170.00 620.62,172.50 623.36,175.00 626.10,169.00 628.84,166.00 631.58,165.00 634.32,164.00 637.05,168.00 639.79,165.00 642.53,162.00 645.27,166.00 648.01,174.00 650.75,172.00 653.49,166.00 656.22,164.00 658.96,162.00 661.70,158.00 664.44,152.00 667.18,160.00 669.92,160.50 672.65,161.00 675.39,160.00 678.13,156.00 680.87,152.00 683.61,155.00 686.35,158.00 689.09,152.00 691.82,158.00 694.56,156.00 697.30,162.00 700.04,166.00 702.78,169.00 705.52,166.00 708.25,163.00 710.99,155.00 713.73,152.00 716.47,154.00 719.21,161.00 721.95,166.00 724.69,162.00 727.42,167.00 730.16,157.00 732.90,164.00 735.64,170.00 738.38,171.00 741.12,166.40 743.86,161.80 746.59,168.40 749.33,172.60 752.07,178.60 754.81,178.30 757.55,178.00 760.29,175.60 763.02,176.60 765.76,181.00 768.50,185.80 771.24,193.00 773.98,188.60 776.72,184.20 779.46,191.00 782.19,193.50 784.93,196.00 787.67,199.00 790.41,203.00 793.15,196.00 795.89,195.50 798.63,195.00 801.36,201.00 804.10,200.50 806.84,200.00 809.58,203.00 812.32,205.00 815.06,207.00 817.80,211.00 820.53,213.00 823.27,215.00 826.01,216.00 828.75,207.00 831.49,211.00 834.23,215.00 836.96,214.00 839.70,214.50 842.44,215.00 845.18,213.00 847.92,217.00 850.66,220.00 853.40,221.00 856.13,222.00 858.87,218.00 861.61,226.00 864.35,237.00 867.09,239.00 869.83,232.00 872.57,231.00 875.30,232.00 878.04,241.00 880.78,249.00 883.52,245.00 886.26,241.00 889.00,247.00 891.73,242.50 894.47,238.00 897.21,250.00 899.95,258.00 902.69,264.00 905.43,253.00 908.17,248.00 910.90,245.00 913.64,252.00 916.38,260.00 919.12,260.00 921.86,260.00 924.60,268.00 927.34,274.80 930.07,273.20 932.81,279.60 935.55,282.00 938.29,279.60 941.03,280.40 943.77,271.60 946.50,277.20 949.24,279.60 951.98,281.20 954.72,287.60 957.46,290.00 960.20,289.20 962.94,292.40 965.67,280.40 968.41,290.80 971.15,303.60 973.89,294.80 976.63,291.60 979.37,288.40 982.11,300.40 984.84,301.20 987.58,302.00 990.32,306.00 993.06,304.40 995.80,310.40 998.54,316.40 1001.27,308.40 1004.01,308.40 1006.75,302.00 1009.49,296.40 1012.23,298.80 1014.97,298.80 1017.71,295.60 1020.44,302.00 1023.18,304.40 1025.92,308.40 1028.66,318.00 1031.40,315.60 1034.14,319.60 1036.88,307.60 1039.61,314.00 1042.35,319.60 1045.09,326.00 1047.83,312.40 1050.57,313.20 1053.31,316.40 1056.04,318.80 1058.78,325.20 1061.52,320.40 1064.26,317.20 1067.00,320.40 1069.74,327.60 1072.48,317.20 1075.21,326.00" fill="none" stroke="#000" stroke-width="2.78" stroke-linejoin="round"/>
<polyline points="78.40,316.00 81.14,327.00 83.88,332.50 86.62,338.00 89.35,324.00 92.09,306.00 94.83,313.00 97.57,324.00 100.31,290.00 103.05,264.50 105.79,239.00 108.52,284.00 111.26,329.00 114.00,354.00 116.74,346.00 119.48,368.00 122.22,332.00 124.95,340.50 127.69,349.00 130.43,328.00 133.17,318.00 135.91,275.00 138.65,291.00 141.39,293.00 144.12,322.00 146.86,309.30 149.60,296.60 152.34,322.00 155.08,331.00 157.82,325.50 160.56,320.00 163.29,329.00 166.03,326.00 168.77,349.00 171.51,316.00 174.25,329.00 176.99,317.00 179.72,346.00 182.46,310.00 185.20,320.00 187.94,329.00 190.68,324.00 193.42,303.50 196.16,301.70 198.89,315.20 201.63,314.00 204.37,307.40 207.11,300.80 209.85,308.90 212.59,301.70 215.33,311.60 218.06,309.40 220.80,311.60 223.54,290.90 226.28,300.80 229.02,314.00 231.76,316.00 234.49,310.00 237.23,318.00 239.97,308.00 242.71,294.00 245.45,291.00 248.19,288.00 250.93,262.00 253.66,282.00 256.40,299.00 259.14,316.00 261.88,338.00 264.62,320.00 267.36,306.00 270.10,292.00 272.83,312.00 275.57,324.00 278.31,339.00 281.05,308.00 283.79,289.00 286.53,297.00 289.26,285.00 292.00,273.00 294.74,273.00 297.48,294.00 300.22,344.00 302.96,330.00 305.70,291.00 308.43,295.00 311.17,286.00 313.91,274.00 316.65,265.00 319.39,308.00 322.13,294.00 324.87,304.00 327.60,281.00 330.34,258.00 333.08,262.00 335.82,297.00 338.56,271.50 341.30,246.00 344.03,242.00 346.77,245.00 349.51,251.00 352.25,256.00 354.99,278.00 357.73,268.00 360.47,272.00 363.20,286.00 365.94,286.00 368.68,276.00 371.42,271.00 374.16,270.00 376.90,286.00 379.63,274.00 382.37,286.00 385.11,266.00 387.85,262.00 390.59,244.00 393.33,254.00 396.07,244.00 398.80,254.00 401.54,264.00 404.28,250.00 407.02,230.00 409.76,221.00 412.50,240.00 415.24,261.00 417.97,236.00 420.71,240.00 423.45,254.00 426.19,258.00 428.93,252.00 431.67,250.00 434.40,258.00 437.14,248.00 439.88,269.00 442.62,254.00 445.36,268.00 448.10,252.00 450.84,242.00 453.57,229.00 456.31,231.00 459.05,216.00 461.79,227.00 464.53,238.00 467.27,236.00 470.01,250.00 472.74,228.00 475.48,220.50 478.22,213.00 480.96,217.00 483.70,198.00 486.44,179.00 489.18,178.70 491.91,178.40 494.65,220.00 497.39,240.00 500.13,242.00 502.87,246.00 505.61,232.00 508.34,216.00 511.08,176.00 513.82,188.00 516.56,183.00 519.30,194.00 522.04,200.00 524.78,192.00 527.51,164.00 530.25,166.00 532.99,149.00 535.73,158.00 538.47,155.50 541.21,153.00 543.95,143.00 546.68,158.00 549.42,135.80 552.16,113.60 554.90,140.00 557.64,177.00 560.38,137.60 563.11,175.60 565.85,156.60 568.59,137.60 571.33,142.00 574.07,148.00 576.81,143.00 579.55,147.00 582.28,139.00 585.02,148.00 587.76,147.00 590.50,151.00 593.24,158.00 595.98,137.60 598.72,140.00 601.45,179.00 604.19,182.00 606.93,196.00 609.67,184.00 612.41,170.50 615.15,157.00 617.88,164.00 620.62,175.00 623.36,176.00 626.10,178.00 628.84,182.00 631.58,174.00 634.32,166.00 637.05,168.00 639.79,135.00 642.53,166.00 645.27,171.00 648.01,180.00 650.75,166.00 653.49,137.60 656.22,150.00 658.96,166.00 661.70,162.00 664.44,153.00 667.18,149.00 669.92,154.00 672.65,154.00 675.39,158.00 678.13,135.00 680.87,157.00 683.61,152.00 686.35,140.00 689.09,129.00 691.82,128.00 694.56,140.00 697.30,138.00 700.04,135.00 702.78,119.00 705.52,120.00 708.25,164.00 710.99,178.00 713.73,187.00 716.47,176.00 719.21,162.00 721.95,148.00 724.69,135.00 727.42,144.00 730.16,158.00 732.90,201.00 735.64,174.00 738.38,178.00 741.12,194.00 743.86,174.00 746.59,180.00 749.33,190.00 752.07,217.00 754.81,202.00 757.55,158.00 760.29,146.00 763.02,162.00 765.76,178.00 768.50,180.00 771.24,197.00 773.98,182.00 776.72,178.00 779.46,196.00 782.19,171.00 784.93,172.00 787.67,168.00 790.41,162.00 793.15,172.00 795.89,161.60 798.63,180.80 801.36,186.00 804.10,188.00 806.84,194.00 809.58,196.00 812.32,198.00 815.06,204.00 817.80,222.00 820.53,217.00 823.27,212.00 826.01,202.00 828.75,210.00 831.49,216.00 834.23,222.00 836.96,208.00 839.70,194.00 842.44,210.00 845.18,218.00 847.92,224.00 850.66,210.00 853.40,206.00 856.13,204.00 858.87,209.00 861.61,208.50 864.35,208.00 867.09,215.50 869.83,219.00 872.57,222.50 875.30,226.00 878.04,232.00 880.78,164.00 883.52,154.40 886.26,169.00 889.00,207.00 891.73,231.00 894.47,240.00 897.21,242.00 899.95,241.00 902.69,241.00" fill="none" stroke="#000" stroke-width="1.15" stroke-linejoin="round"/>
</g>
<rect x="78.5" y="60.5" width="997" height="385" fill="none" stroke="#000" stroke-width="1.1"/>
<line x1="73.1" y1="432.40" x2="78" y2="432.40" stroke="#000" stroke-width="1.1"/>
<text x="57.60" y="438.90" font-size="20.61" textLength="11.25" lengthAdjust="spacingAndGlyphs">5</text>
<line x1="73.1" y1="366.00" x2="78" y2="366.00" stroke="#000" stroke-width="1.1"/>
<text x="45.60" y="372.90" font-size="20.61" textLength="21.42" lengthAdjust="spacingAndGlyphs">10</text>
<line x1="73.1" y1="299.60" x2="78" y2="299.60" stroke="#000" stroke-width="1.1"/>
<text x="45.40" y="306.60" font-size="20.61" textLength="21.42" lengthAdjust="spacingAndGlyphs">15</text>
<line x1="73.1" y1="233.20" x2="78" y2="233.20" stroke="#000" stroke-width="1.1"/>
<text x="44.60" y="239.90" font-size="20.61" textLength="22.59" lengthAdjust="spacingAndGlyphs">20</text>
<line x1="73.1" y1="166.80" x2="78" y2="166.80" stroke="#000" stroke-width="1.1"/>
<text x="44.80" y="173.90" font-size="20.61" textLength="22.59" lengthAdjust="spacingAndGlyphs">25</text>
<line x1="73.1" y1="100.40" x2="78" y2="100.40" stroke="#000" stroke-width="1.1"/>
<text x="45.80" y="107.90" font-size="20.61" textLength="22.59" lengthAdjust="spacingAndGlyphs">30</text>
<line x1="78.60" y1="445" x2="78.60" y2="450.5" stroke="#000" stroke-width="1.1"/>
<text x="78.60" y="468.80" font-size="17.67" text-anchor="middle" textLength="29.26" lengthAdjust="spacingAndGlyphs">Ene</text>
<line x1="163.51" y1="445" x2="163.51" y2="450.5" stroke="#000" stroke-width="1.1"/>
<text x="163.51" y="468.80" font-size="17.67" text-anchor="middle" textLength="28.32" lengthAdjust="spacingAndGlyphs">Feb</text>
<line x1="240.20" y1="445" x2="240.20" y2="450.5" stroke="#000" stroke-width="1.1"/>
<text x="240.20" y="468.80" font-size="17.67" text-anchor="middle" textLength="30.40" lengthAdjust="spacingAndGlyphs">Mar</text>
<line x1="325.11" y1="445" x2="325.11" y2="450.5" stroke="#000" stroke-width="1.1"/>
<text x="325.11" y="468.80" font-size="17.67" text-anchor="middle" textLength="27.84" lengthAdjust="spacingAndGlyphs">Abr</text>
<line x1="407.28" y1="445" x2="407.28" y2="450.5" stroke="#000" stroke-width="1.1"/>
<text x="407.28" y="468.80" font-size="17.67" text-anchor="middle" textLength="33.41" lengthAdjust="spacingAndGlyphs">May</text>
<line x1="492.19" y1="445" x2="492.19" y2="450.5" stroke="#000" stroke-width="1.1"/>
<text x="491.19" y="468.80" font-size="17.67" text-anchor="middle" textLength="26.04" lengthAdjust="spacingAndGlyphs">Jun</text>
<line x1="574.36" y1="445" x2="574.36" y2="450.5" stroke="#000" stroke-width="1.1"/>
<text x="572.96" y="468.80" font-size="17.67" text-anchor="middle" textLength="20.11" lengthAdjust="spacingAndGlyphs">Jul</text>
<line x1="659.27" y1="445" x2="659.27" y2="450.5" stroke="#000" stroke-width="1.1"/>
<text x="659.27" y="468.80" font-size="17.67" text-anchor="middle" textLength="30.14" lengthAdjust="spacingAndGlyphs">Ago</text>
<line x1="744.18" y1="445" x2="744.18" y2="450.5" stroke="#000" stroke-width="1.1"/>
<text x="744.18" y="468.80" font-size="17.67" text-anchor="middle" textLength="29.32" lengthAdjust="spacingAndGlyphs">Sep</text>
<line x1="826.35" y1="445" x2="826.35" y2="450.5" stroke="#000" stroke-width="1.1"/>
<text x="826.35" y="468.80" font-size="17.67" text-anchor="middle" textLength="26.76" lengthAdjust="spacingAndGlyphs">Oct</text>
<line x1="911.26" y1="445" x2="911.26" y2="450.5" stroke="#000" stroke-width="1.1"/>
<text x="911.26" y="468.80" font-size="17.67" text-anchor="middle" textLength="30.50" lengthAdjust="spacingAndGlyphs">Nov</text>
<line x1="993.43" y1="445" x2="993.43" y2="450.5" stroke="#000" stroke-width="1.1"/>
<text x="993.43" y="468.80" font-size="17.67" text-anchor="middle" textLength="25.56" lengthAdjust="spacingAndGlyphs">Dic</text>
<text x="340.90" y="31.90" font-size="26.50" fill="#2f6fa6" textLength="469.80" lengthAdjust="spacingAndGlyphs">Temperatura Media diaria - Salobreña</text>
<text x="49.60" y="54.80" font-size="17.67" textLength="17.75" lengthAdjust="spacingAndGlyphs">°C</text>
<text x="82.80" y="54.80" font-size="17.67" textLength="210.11" lengthAdjust="spacingAndGlyphs">Última temp: 2025-10-29</text>
<text x="89.60" y="83.90" font-size="23.56" fill="#2f6fa6" textLength="238.57" lengthAdjust="spacingAndGlyphs">WWW.EMBALSES.NET</text>
<rect x="185.6" y="476.5" width="782.8" height="40" rx="4" ry="4" fill="#fff" fill-opacity="0.8" stroke="#cccccc" stroke-width="1.1"/>
<line x1="191.9" y1="491.4" x2="225.2" y2="491.4" stroke="#ff0000" stroke-width="0.9" stroke-dasharray="2.57,1.11"/>
<text x="239.20" y="496.60" font-size="17.67" textLength="97.41" lengthAdjust="spacingAndGlyphs">Percentil 95</text>
<line x1="370.3" y1="491.4" x2="403.6" y2="491.4" stroke="#add8e6" stroke-width="1.39" stroke-dasharray="5.14,2.22"/>
<text x="417.00" y="496.60" font-size="17.67" textLength="86.79" lengthAdjust="spacingAndGlyphs">Percentil 5</text>
<line x1="537.1" y1="491.4" x2="572.9" y2="491.4" stroke="#000" stroke-width="2.78"/>
<text x="584.50" y="496.60" font-size="17.67" textLength="179.87" lengthAdjust="spacingAndGlyphs">Temperatura Mediana</text>
<line x1="799.3" y1="491.4" x2="832.7" y2="491.4" stroke="#000" stroke-width="1.3" stroke-linecap="round"/>
<text x="845.50" y="496.60" font-size="17.67" textLength="115.53" lengthAdjust="spacingAndGlyphs">T. Media 2025</text>
</svg></body></html>
